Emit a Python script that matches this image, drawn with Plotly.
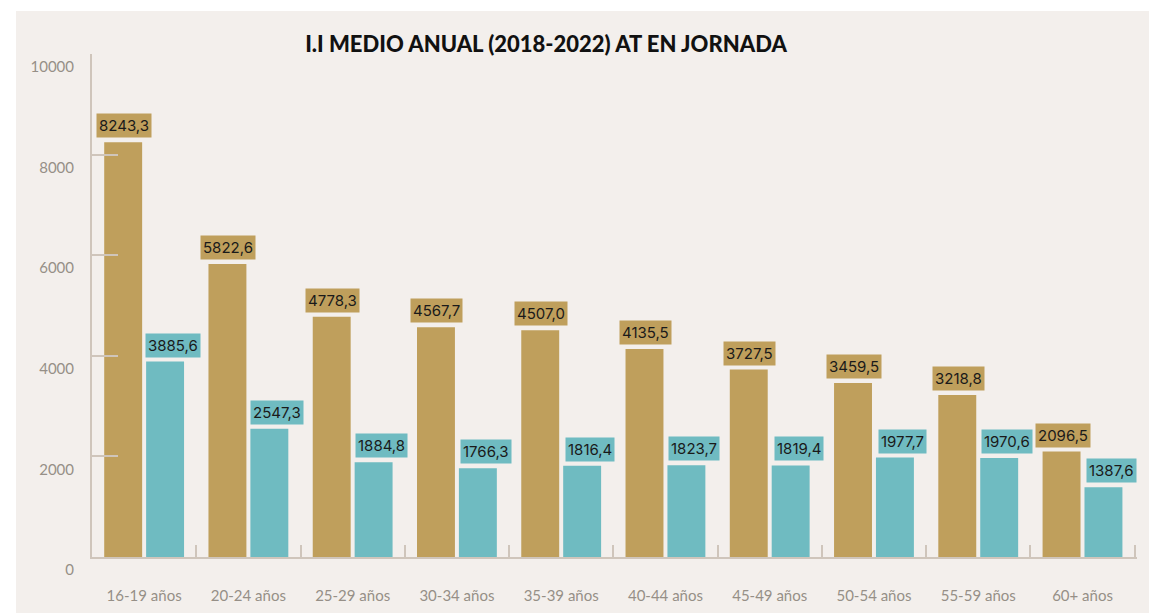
import plotly.graph_objects as go

categories = ["16-19 años", "20-24 años", "25-29 años", "30-34 años", "35-39 años",
              "40-44 años", "45-49 años", "50-54 años", "55-59 años", "60+ años"]
serie_oro = [8243.3, 5822.6, 4778.3, 4567.7, 4507.0, 4135.5, 3727.5, 3459.5, 3218.8, 2096.5]
serie_turquesa = [3885.6, 2547.3, 1884.8, 1766.3, 1816.4, 1823.7, 1819.4, 1977.7, 1970.6, 1387.6]
y_ticks = [0, 2000, 4000, 6000, 8000, 10000]
y_ticktext = ["0", "2000", "4000", "6000", "8000", "10000"]
title_text = "I.I MEDIO ANUAL (2018-2022) AT EN JORNADA"

GOLD = "#BF9F5C"
TEAL = "#6FBBC1"
PANEL = "#F3EFEC"
AXIS = "#CFC5BB"
TICKTXT = "#968F87"

def fmt(v):
    return f"{v:.1f}".replace(".", ",")

fig = go.Figure()
fig.add_trace(go.Bar(x=categories, y=serie_oro, marker=dict(color=GOLD, line=dict(width=0)),
                     name="A", hoverinfo="skip"))
fig.add_trace(go.Bar(x=categories, y=serie_turquesa, marker=dict(color=TEAL, line=dict(width=0)),
                     name="B", hoverinfo="skip"))

annotations = []
for c, v in zip(categories, serie_oro):
    annotations.append(dict(x=c, y=v, xref="x", yref="y", text=fmt(v), showarrow=False,
                            xanchor="center", yanchor="bottom", xshift=-20, yshift=4,
                            bgcolor=GOLD, borderpad=2,
                            font=dict(family="Inter", size=15, color="#1a1a1a")))
for c, v in zip(categories, serie_turquesa):
    annotations.append(dict(x=c, y=v, xref="x", yref="y", text=fmt(v), showarrow=False,
                            xanchor="center", yanchor="bottom", xshift=29, yshift=4,
                            bgcolor=TEAL, borderpad=2,
                            font=dict(family="Inter", size=15, color="#1a1a1a")))

# page body adds an 8px offset; figure coordinates are reference minus 8
W, H = 1157, 613
pw, ph = 1045, 503
L, T = 84, 46
R, B = W - L - pw, H - T - ph
plot_bottom = T + ph

fig.add_shape(type="rect", xref="paper", yref="paper", layer="below",
              x0=(8 - L) / pw, x1=(W + 20 - L) / pw,
              y0=-(B + 20) / ph, y1=(plot_bottom - 3) / ph,
              fillcolor=PANEL, line=dict(width=0))

fig.update_layout(
    width=W, height=H,
    margin=dict(l=L, r=R, t=T, b=B, autoexpand=False),
    paper_bgcolor="white",
    plot_bgcolor="rgba(0,0,0,0)",
    barmode="group",
    bargap=0.196,
    bargroupgap=0.095,
    showlegend=False,
    annotations=annotations,
    title=dict(text=title_text, x=538 / W, xanchor="center", y=1 - 36 / H, yanchor="middle",
               xref="container", yref="container",
               font=dict(family="Lato", size=22, color="#111111", weight=900)),
)

fig.update_xaxes(
    automargin=False,
    showline=True, linecolor=AXIS, linewidth=2,
    ticks="inside", tickson="boundaries", ticklen=12, tickcolor=AXIS, tickwidth=2,
    showgrid=False, zeroline=False,
    tickfont=dict(family="Lato", size=15, color=TICKTXT),
    ticklabelstandoff=24,
)
fig.update_yaxes(
    automargin=False,
    range=[0, 10000], tickvals=y_ticks, ticktext=y_ticktext,
    showline=True, linecolor=AXIS, linewidth=2,
    ticks="inside", ticklen=26, tickcolor=AXIS, tickwidth=2,
    showgrid=False, zeroline=False,
    tickfont=dict(family="Lato", size=15, color=TICKTXT),
    ticklabelstandoff=13, ticklabelshift=13,
)

fig.write_html("out.html")
